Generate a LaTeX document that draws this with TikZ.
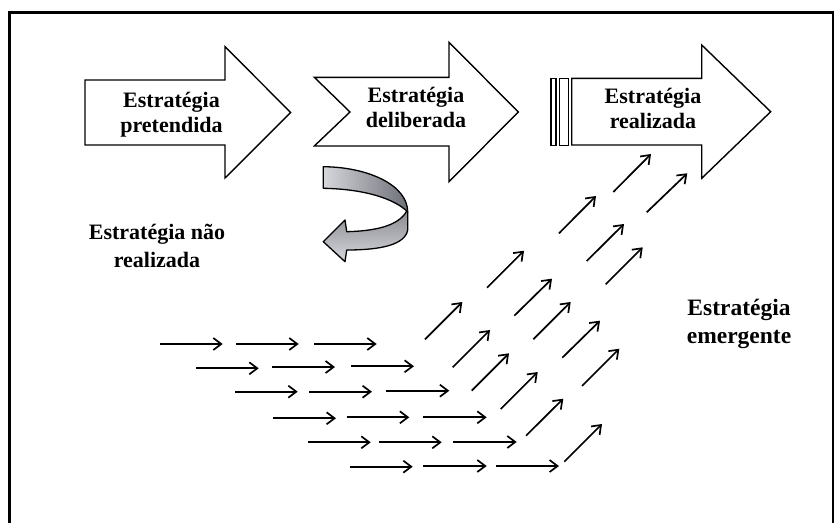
\documentclass[tikz,border=0pt]{standalone}
\usepackage{fontspec}
\setmainfont{Liberation Serif}
\usetikzlibrary{arrows.meta}
\definecolor{steellight}{HTML}{D6D7DB}
\definecolor{steeldark}{HTML}{6E7079}
\begin{document}
\begin{tikzpicture}[x=1pt,y=-1pt,
  bigarrow/.style={draw=black, line width=1.4pt, fill=white, line join=miter},
  stripe/.style={draw=black, line width=1.1pt, fill=white},
  lbl/.style={font=\bfseries\fontsize{22}{25}\selectfont, align=center, inner sep=0pt, anchor=base},
  flow/.style={line width=1.7pt, -{Straight Barb[length=8pt,width=12pt]}},
  band/.style={draw=black, line width=1.3pt, line join=round},
]
\useasboundingbox (0,0) rectangle (834,522);

% outer frame
\draw[line width=2.7pt] (9.3,524) -- (9.3,12.7) -- (833,12.7) -- (833,524);

% block arrows
\draw[bigarrow] (85,80) -- (225,80) -- (225,46.7) -- (290.7,112.5) -- (225,178) -- (225,145) -- (85,145) -- cycle;
\draw[bigarrow] (314.3,77.3) -- (449,77.3) -- (449,42.3) -- (518.3,112) -- (449,181.7) -- (449,146) -- (314.3,146) -- (350,112) -- cycle;
\draw[stripe] (551,78.3) rectangle (556,145.7);
\draw[stripe] (559.3,78.3) rectangle (568.3,145.7);
\draw[bigarrow] (571.7,78.3) -- (701.7,78.3) -- (701.7,45) -- (770.7,111.7) -- (701.7,178.3) -- (701.7,145) -- (571.7,145) -- cycle;

% labels (anchored at the baseline of their last line)
\node[lbl] (pretendida) at (171.5,132.3) {Estratégia\\pretendida};
\node[lbl] (deliberada) at (416,127.3) {Estratégia\\deliberada};
\node[lbl] (realizada) at (653,128.3) {Estratégia\\realizada};

% twisted return arrow
\shade[band, left color=steellight, right color=steeldark]
  (323.3,166.7) .. controls (368,167) and (407.7,185) .. (407.7,212)
  .. controls (395,199) and (365,189) .. (323.3,188.3) -- cycle;
\shade[band, top color=steeldark!80, bottom color=steellight]
  (406.5,211.5) -- (407.7,212) -- (407.7,230)
  .. controls (405,245) and (380,250) .. (346.7,250)
  -- (345,261.7) -- (323.3,241.7) -- (345,220) -- (346.7,231.7)
  .. controls (375,231) and (398,226) .. (406.5,211.5) -- cycle;

\node[lbl, font=\bfseries\fontsize{22}{28.4}\selectfont] (naorealizada) at (157,267.7) {Estratégia não\\realizada};
\node[lbl, font=\bfseries\fontsize{23.5}{28.6}\selectfont] (emergente) at (739,343.7) {Estratégia\\emergente};

% horizontal stream of small arrows
\foreach \xa/\xb/\yy in {
  160/222.7/344, 236/298.7/344, 314/376.7/344,
  196/258.7/368.3, 272.3/335/367, 351.3/414/366.3,
  235/297.7/391.7, 309.3/372/391.7, 386/449.3/390.7,
  273.3/336/418.3, 346.7/409.3/417.3, 423.3/486.7/417.3,
  308/370.7/442.3, 379.3/441.7/442.3, 453.3/516.7/442,
  350/412.7/466.7, 423.3/486.7/466, 495.7/559/466}
  \draw[flow] (\xa,\yy) -- (\xb,\yy);

% rising stream of small arrows
\foreach \xa/\ya/\xb/\yb in {
  425/339.3/462.3/302, 487/287.7/524/250.7, 559/233.3/596/196, 613.3/192/651/154,
  452.7/367.3/490/330, 514.3/315.7/552/278.7, 586.7/261/624/224, 646.7/212.3/687.3/173.3,
  471.7/390.7/509/353.3, 533.3/339.3/570.7/302, 605.7/284.3/642.7/247.3,
  500.7/409/537.7/372, 562.3/357.7/600/320.7,
  526/435.7/563.3/398.7, 582/386/619.3/348.7,
  564.3/461.7/602/424}
  \draw[flow] (\xa,\ya) -- (\xb,\yb);
\end{tikzpicture}
\end{document}
